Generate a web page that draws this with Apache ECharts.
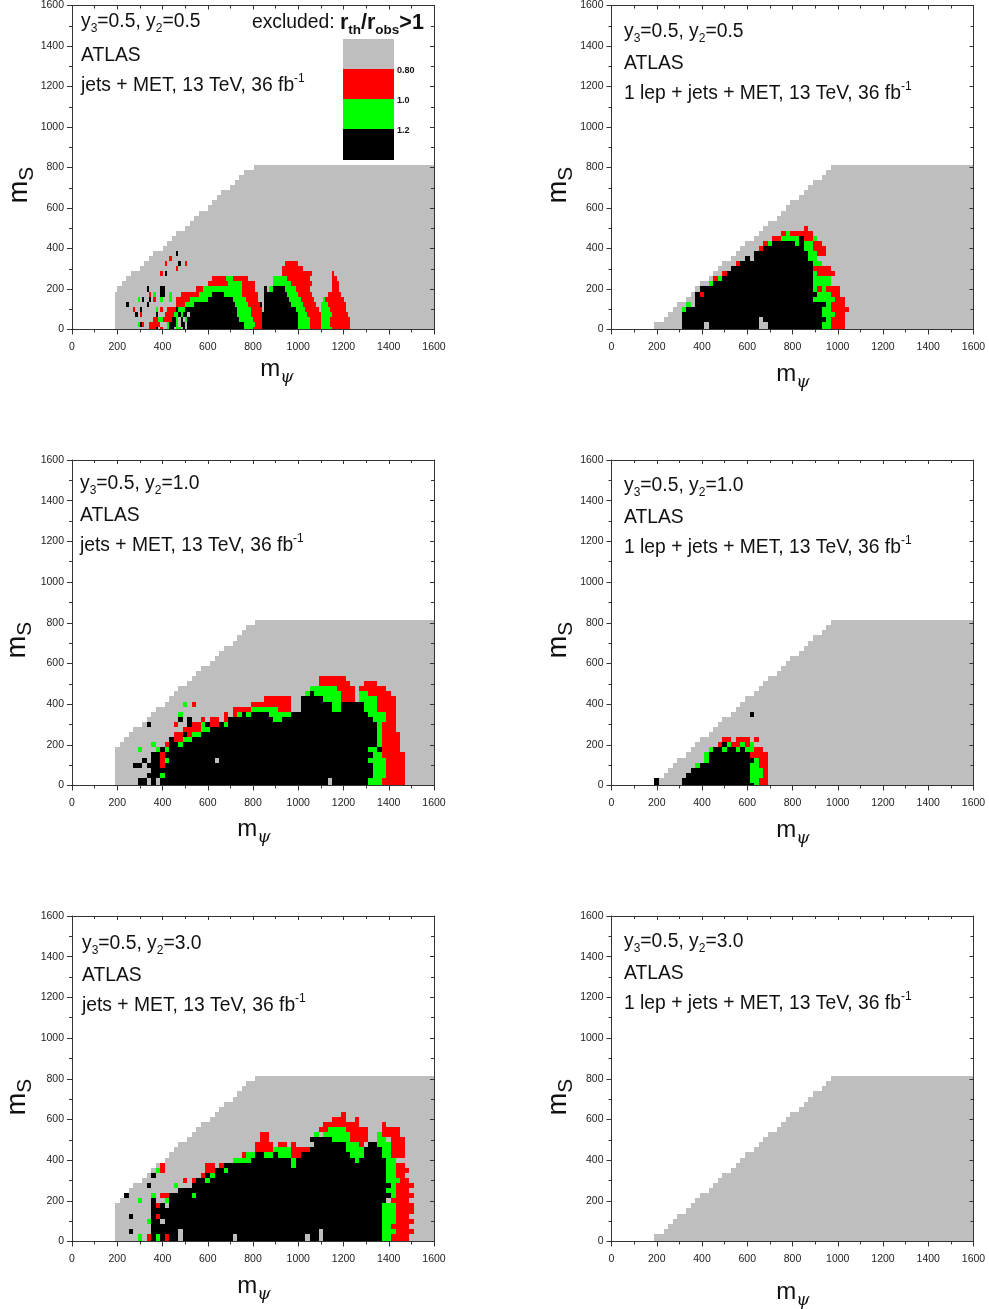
<!DOCTYPE html>
<html><head><meta charset="utf-8">
<style>html,body{margin:0;padding:0;background:#fff}#c{width:989px;height:1309px}</style>
<script src="https://cdn.jsdelivr.net/npm/echarts@6/dist/echarts.min.js"></script>
</head><body><div id="c"></div>
<script>
// left edge in m_psi of the grey allowed region, one entry per m_S row (row k is centred on 25*k)
const grayLeftTopLeft = [190,190,190,190,190,190,190,190,200,220,240,260,300,320,340,360,400,420,440,460,500,520,540,560,600,620,640,660,700,720,740,760,805];
const grayLeftJets    = [190,190,190,190,190,190,190,190,210,230,250,270,310,330,350,370,410,430,450,470,510,530,550,570,610,630,650,670,710,730,750,770,810];
const grayLeftLep     = [190,190,230,250,270,290,330,350,370,390,430,450,470,490,530,550,570,590,630,650,670,690,730,750,770,790,830,850,870,890,930,950,970];

// cells per row k. r red, g green, k black, e grey. Numbers are column indices, later tokens win.
// top-left panel: column i spans m_psi 10*i to 10*i+10
const rowsJets05 = [
 'r34-36 k37 r39 g42 k43-44 g46-47 k49 k51-75 g76-79 r80-83 k84-99 g100-104 r105-109 g110-114 r115-122',
 'g29 k30 r31 r34-38 g42 k43-45 g46 k48-49 k51-75 g76-80 r81-83 k84-99 g100-104 r105-109 g110-113 r114-122',
 'r36-37 g38-39 r40-43 k44-45 g46 k48 g50 k51-73 g74-79 r80-83 k84-99 g100-104 r105-109 g110-113 r114-122',
 'k28 r30 k37 r41-44 g45-46 k47 g48 k49-50 k52-72 g73-78 r79-83 k84-99 g100-103 r104-109 g110-114 r115-121',
 'r27 k30 g37 r39 r42-45 k46 g47-49 k50 k51-72 g73-78 r79-83 k85-98 g99-102 r103-108 g110-113 r114-120',
 'k24 k33 r46-49 g50-53 k54-71 g72-77 r78-82 k83 k85-96 g97-101 r102-107 g110-112 r113-120',
 'g29 k31 k34 r36 g39 g43 r46-51 g52-59 k60-70 g71-76 r77-81 k85-95 g96-100 r101-106 g111 r112-119',
 'r34 g36 k39-40 g43 r48-55 g56-61 k62-66 g67-74 r75-81 k85-94 g95-99 r100-105 r113-118',
 'k33 k39-40 r55-57 g58-74 r75-80 k85 g87-88 k89-93 g94-98 r99-104 r115-117',
 'r60-68 g69-74 r75-80 g89-96 r97-105 r115-117',
 'r62-67 g68-70 r71-77 g89-94 r95-104 r115-116',
 'r39 k41 r93-105 r115',
 'r46 r93-101',
 'r41 k47 r50 r94-99',
 'r43',
 'k46'
];
// other panels: column i is centred on m_psi 20*i
const rowsLep05 = [
 'k16-46 e21 e33-34 g47-48 r49-51',
 'k16-46 e21 e33-34 g47-48 r49-51',
 'k16-47 e33 g48 r49-51',
 'k16-46 g47-49 r50-51',
 'g16 k17-46 g47-48 r49-52',
 'g17 k19-47 g48 r49-51',
 'k19-44 g45-49 r50-51',
 'k19 r20 k21-45 g46-48 r49-50',
 'k20-44 g45 r46 g47 r48-50',
 'g22 k23-44 g45-48',
 'r23 g24 k25-44 g45-48',
 'r25 k26-44 g45 r46-49',
 'k27-44 r45-48',
 'r28 k29-44 g45-46',
 'k30 k32-43 g44-45',
 'k32-43 g44-45 r46-47',
 'r33 k34-42 g43-44 r45-47',
 'r34 g35 k36-40 g41 k42 g43-44 r45-46',
 'r36-37 g38-41 k42 r43-44 g45',
 'r38 g39 r40-44',
 'r43'
];
const rowsJets10 = [
 'k15-16 k18 k20-65 e57 g66-68 r69-73',
 'k15-16 k18 k20-65 e57 g66-68 r69-73',
 'k17-19 g20 k21-66 g67-69 r70-73',
 'k18-66 g67-69 r70-73',
 'k14-15 k17-19 r20 k21-66 g67-69 r70-73',
 'k16 k18-19 r20 g21 k22-65 e32 g66-69 r70-73',
 'k18-19 r20 k21-66 g67-68 r69-73',
 'g15 g19 k20 g21 k22-65 g66-67 k68 r69-72',
 'g18 r21 k22-67 g24 g68 r69-72',
 'k22 r23-24 g25-26 k27-67 g68 r69-72',
 'r23-24 k25 r26 g27-28 k29-67 g68 r69-72',
 'r25-28 g29-30 k31-67 g68 r69-71',
 'k17 r23 k26 r27-28 g29 k30 r31-32 k33 g34 k35-67 g68 r69-71',
 'k24 k26 r29 r31-32 r34 k35-44 g45-46 k47-66 g67-69 r70-71',
 'g24 r34 r36 g37 k38 g39 k40-43 g44-48 k49-65 g66-69 r70-71',
 'r36-39 g40-45 r46-48 k51-57 g58-59 k60-64 g65-67 r68-71',
 'g25 r27 r40-48 k51-57 g58-59 k60-64 g65-67 r68-71',
 'r43-48 k51-55 g56-59 r60-62 g64-67 r68-71',
 'g52 k53 g54-59 r60-62 g64-65 r66-70',
 'g53-58 r59-62 r64-69',
 'r55-61 r65-67',
 'r55-60'
];
const rowsLep10 = [
 'k10 k16-31 g32 r33-34',
 'k10 k16-30 g31-32 r33-34',
 'k17-30 g31-33 r34',
 'k18-30 g31-33 r34',
 'g19 k20-30 g31-32 r33-34',
 'g21 k22-31 g32 r33-34',
 'g21 k22-30 r31-34',
 'g22 k23-24 g25 k26-27 g28 k29 g30-31 r32-33',
 'r24 k25 g26 r27-28 g29 r30 g31',
 'r25-26 r28-30 r32',
 '','','','',
 'k31'
];
const rowsJets30 = [
 'g15 r17 k18 g19 k20 r21 k22-68 e24 e36 e52 e55 g69-70 r71-74',
 'g15 r17 k18 g19 k20 r21 k22-68 e24 e36 e52 e55 g69-70 r71-74',
 'k13 k18-68 e24 e55 g69-71 r72-75',
 'k18-68 g69-70 r71-74',
 'g17 k18-19 e20 k21-68 g69-71 r72-75',
 'k13 k18 r19 k20-68 g69-71 r72-74',
 'k18-68 g69-71 r72-75',
 'k18 r19 k20 e21 k22-68 g69-71 r72-75',
 'g15 k18 g21 k22-69 r71-74',
 'k12 g18 r20-21 k22-70 g27 g71 r72-75',
 'k24-69 g70-71 r72-74',
 'k17 g23 k27-70 g71 r72-75',
 'r25 r27 k28-69 g30 g70-72 r73-74',
 'k18 r29 k30 g31 k32-69 g70-71 r72-73',
 'g19 r20 r30-31 k32-69 g34 g70-71 r72-74',
 'r20 r30-31 r33 k34-69 g49 g70-71 r72-73',
 'g36-39 k40-69 g49 g63 g70-71',
 'r38 g39-40 k41-42 g43-44 k45 g46-48 r49-50 k51-61 g62-64 k65-68 g69-70 r71-73',
 'r41-44 g45-48 r49-52 k53-60 g61-64 k65-68 g69-70 r71-73',
 'r41-44 r46-47 r49 k54-60 g61-63 r64 k66-67 g68-70 r71-73',
 'r42-43 k53-57 g58-61 r62-65 g68-69 r71-73',
 'r42-43 g54 g56-61 r62-65 g68 r69-72',
 'r55-56 g57-60 r61-65 r69-72',
 'r56-63 r69',
 'r58-60 r63',
 'r60'
];
const rowsLep30 = [];

const legendLabels = ['0.80','1.0','1.2'];
const panelTitles = ['0.5','0.5','1.0','1.0','3.0','3.0'];
const analyses = ['jets + MET','1 lep + jets + MET'];

const palette = {e:'#bebebe', r:'#ff0000', g:'#00ff00', k:'#000000'};
const codes = ['e','r','g','k'];
const FONT = '"Liberation Sans", Arial, sans-serif';

const panels = [
 {left:72,  top:4,   gray:grayLeftTopLeft, rows:rowsJets05, fine:true,  tx:81,  ty:[22,56,86],       an:0, psi:[277,369], ms:[20,185]},
 {left:611.5,top:4,  gray:grayLeftLep,     rows:rowsLep05,  tx:624, ty:[32,64,94],        an:1, psi:[793,374], ms:[559,185]},
 {left:72,  top:460, gray:grayLeftJets,    rows:rowsJets10, tx:80,  ty:[484,516,546],     an:0, psi:[254,829], ms:[18,640]},
 {left:611.5,top:460,gray:grayLeftLep,     rows:rowsLep10,  tx:624, ty:[486,518,548],     an:1, psi:[793,830], ms:[559,640]},
 {left:72,  top:916, gray:grayLeftJets,    rows:rowsJets30, tx:82,  ty:[944,976,1006],    an:0, psi:[254,1286],ms:[18,1097]},
 {left:611.5,top:916,gray:grayLeftLep,     rows:rowsLep30,  tx:624, ty:[942,974,1004],    an:1, psi:[793,1292],ms:[559,1097]}
];

function buildCells(p){
  const out = [];
  p.gray.forEach((l,k)=>out.push([l,1600,25*k,0]));
  p.rows.forEach((row,k)=>{
    row.split(' ').filter(Boolean).forEach(t=>{
      const m = t.match(/^([ergk])(\d+)(?:-(\d+))?$/);
      const a=+m[2], b=m[3]?+m[3]:a;
      const x0 = p.fine ? 10*a : 20*a-10;
      const x1 = p.fine ? 10*b+10 : 20*b+10;
      out.push([x0,x1,25*k,codes.indexOf(m[1])]);
    });
  });
  return out;
}
function renderCell(params, api){
  const a = api.coord([api.value(0), api.value(2)+12.5]);
  const b = api.coord([api.value(1), api.value(2)-12.5]);
  const x=Math.round(a[0]), y=Math.round(a[1]);
  return {type:'rect', shape:{x, y, width:Math.round(b[0])-x, height:Math.round(b[1])-y},
          style:{fill:palette[codes[api.value(3)]]}};
}
const LINE = {lineStyle:{color:'#333',width:1}};
function axis(extra, main, margin){
  return Object.assign({type:'value', min:0, max:1600, interval:200, z:5,
    axisLine:{show:true, onZero:false, lineStyle:LINE.lineStyle},
    axisTick:{show:true, length:main?5:4, inside:!main, lineStyle:LINE.lineStyle},
    minorTick:{show:true, splitNumber:2, length:3, lineStyle:LINE.lineStyle},
    splitLine:{show:false},
    axisLabel:{show:main, fontFamily:FONT, fontSize:10.5, color:'#222', margin:margin||0,
      formatter:v=>String(v), showMinLabel:true, showMaxLabel:true, hideOverlap:false}
  }, extra);
}
const grid=[], xAxis=[], yAxis=[], series=[], graphic=[];
panels.forEach((p,i)=>{
  grid.push({left:p.left, top:p.top, width:362, height:325.5, containLabel:false});
  xAxis.push(axis({gridIndex:i, position:'bottom'}, true, 12));
  xAxis.push(axis({gridIndex:i, position:'top'}, false));
  yAxis.push(axis({gridIndex:i, position:'left'}, true, 8));
  yAxis.push(axis({gridIndex:i, position:'right'}, false));
  series.push({type:'custom', xAxisIndex:2*i, yAxisIndex:2*i, coordinateSystem:'cartesian2d',
    clip:true, silent:true, animation:false, z:2,
    encode:{x:[0,1], y:2}, data:buildCells(p), renderItem:renderCell});

  const base = {a:{fontFamily:FONT,fontSize:19.3,fill:'#111',lineHeight:26,verticalAlign:'middle'},
                s:{fontFamily:FONT,fontSize:12,fill:'#111',lineHeight:26,verticalAlign:'bottom'},
                u:{fontFamily:FONT,fontSize:12,fill:'#111',lineHeight:26,verticalAlign:'top'}};
  const y2 = panelTitles[i];
  const txt=(t,y)=>graphic.push({type:'text',x:p.tx,y:y,z:10,silent:true,
     style:{text:t,rich:base,font:'19.3px '+FONT,fill:'#111',textAlign:'left',textVerticalAlign:'middle'}});
  txt('{a|y}{s|3}{a|=0.5, y}{s|2}{a|='+y2+'}',p.ty[0]);
  txt('{a|ATLAS}',p.ty[1]);
  txt('{a|'+analyses[p.an]+', 13 TeV, 36 fb}{u|-1}',p.ty[2]);
  graphic.push({type:'text',x:p.psi[0],y:p.psi[1],z:10,silent:true,style:{
     text:'{m|m}{p|\u03c8}',textAlign:'center',textVerticalAlign:'middle',
     rich:{m:{fontFamily:FONT,fontSize:24,fill:'#111',lineHeight:34,verticalAlign:'middle'},
           p:{fontFamily:'"DejaVu Serif",serif',fontStyle:'italic',fontSize:17,fill:'#111',lineHeight:34,verticalAlign:'bottom'}}}});
  graphic.push({type:'text',x:p.ms[0],y:p.ms[1],rotation:Math.PI/2,z:10,silent:true,style:{
     text:'{m|m}{p|S}',textAlign:'center',textVerticalAlign:'middle',
     rich:{m:{fontFamily:FONT,fontSize:27,fill:'#111',lineHeight:36,verticalAlign:'middle'},
           p:{fontFamily:FONT,fontSize:21,fill:'#111',lineHeight:36,verticalAlign:'bottom'}}}});
});
// legend of the first panel
[['e',39],['r',69],['g',99],['k',129]].forEach(([c,y])=>graphic.push({type:'rect',z:10,silent:true,
   shape:{x:343,y:y,width:51,height:31},style:{fill:palette[c]}}));
legendLabels.forEach((t,i)=>graphic.push({type:'text',x:397,y:70.5+30*i,z:10,silent:true,
   style:{text:t,font:'bold 9px '+FONT,fill:'#111',textVerticalAlign:'middle'}}));
graphic.push({type:'text',x:252,y:23,z:10,silent:true,style:{
   text:'{a|excluded: }{b|r}{c|th}{b|/r}{c|obs}{b|>1}',textVerticalAlign:'middle',
   rich:{a:{fontFamily:FONT,fontSize:19.3,fill:'#111',lineHeight:28,verticalAlign:'middle'},
         b:{fontFamily:FONT,fontSize:21.5,fontWeight:'bold',fill:'#111',lineHeight:28,verticalAlign:'middle'},
         c:{fontFamily:FONT,fontSize:13.5,fontWeight:'bold',fill:'#111',lineHeight:28,verticalAlign:'bottom'}}}});

const chart = echarts.init(document.getElementById('c'),null,{renderer:'canvas'});
chart.setOption({animation:false, backgroundColor:'#fff', grid, xAxis, yAxis, series, graphic});
</script></body></html>
